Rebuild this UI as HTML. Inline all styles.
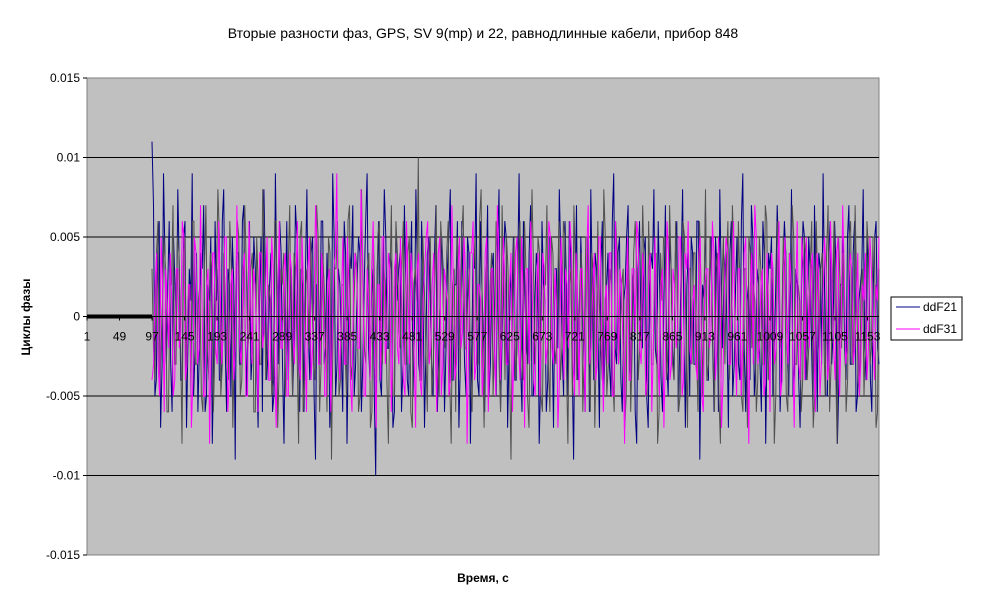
<!DOCTYPE html>
<html><head><meta charset="utf-8"><style>
body{margin:0;background:#fff;font-family:"Liberation Sans",sans-serif}
svg{display:block}
</style></head><body>
<svg id="c" width="981" height="605" xmlns="http://www.w3.org/2000/svg">
<text x="483" y="38" text-anchor="middle" font-size="14">Вторые разности фаз, GPS, SV 9(mp) и 22, равнодлинные кабели, прибор 848</text>
<rect x="87" y="78" width="792" height="477" fill="#c0c0c0" stroke="#808080"/>
<g id="grid"></g><g id="series"></g><g id="axes"></g>
<text x="30" y="317" transform="rotate(-90 30 317)" text-anchor="middle" font-size="12" font-weight="bold">Циклы фазы</text>
<text x="483" y="582" text-anchor="middle" font-size="12" font-weight="bold">Время, с</text>
<g>
<rect x="891" y="297" width="71" height="43" fill="#fff" stroke="#000"/>
<line x1="896" y1="307" x2="920" y2="307" stroke="#000080"/>
<text x="923" y="311" font-size="12">ddF21</text>
<line x1="896" y1="329" x2="920" y2="329" stroke="#ff00ff"/>
<text x="923" y="333" font-size="12">ddF31</text>
</g>
</svg>
<script>
const yTicks=[0.015,0.01,0.005,0,-0.005,-0.01,-0.015];
const xTickLabels=[1,49,97,145,193,241,289,337,385,433,481,529,577,625,673,721,769,817,865,913,961,1009,1057,1105,1153];
const nCategories=1170;
const noiseStart=97;
const blue=[11,-5,4,-7,9,-3,6,-6,2,8,-4,5,-7,3,9,-2,-6,4,7,-5,1,-8,6,3,-4,8,-6,2,5,-9,4,-3,7,-5,6,-2,3,-7,5,8,-4,2,-6,9,-3,4,-8,6,1,-5,7,-2,3,-6,8,-4,5,-9,2,6,-3,4,-7,9,-5,3,-2,6,-8,4,7,-3,5,-6,2,9,-4,3,-10,6,-5,8,-2,4,-7,5,3,-6,7,-4,2,-5,8,-3,6,-7,4,1,-5,7,-2,5,-6,3,8,-4,2,-7,6,-3,5,-8,4,9,-5,2,-6,7,-3,4,-5,8,-2,6,-7,3,5,-4,9,-6,2,-3,7,-5,4,-8,6,1,-4,5,-7,3,8,-2,6,-5,4,-9,7,-3,2,-6,5,8,-4,3,-7,6,-2,4,-5,9,-3,5,-6,2,7,-4,3,-8,6,-2,5,-7,4,8,-3,2,-6,7,-5,3,-4,6,-2,8,-7,4,5,-3,6,-9,2,7,-4,5,-6,3,8,-2,4,-7,6,-3,5,-4,9,-6,2,7,-5,3,-3,6,-8,4,5,-2,7,-6,3,4,-5,8,-3,2,-7,6,-4,5,-2,7,-6,3,9,-5,4,-3,6,-8,2,5,-4,7,-3,6,-5,2,8,-4,3,-6,5,-2,7,-4,6,-3,4,
 2,-3,5,-1,3,-4,6,-2,1,-5,4,-2,3,-6,2,5,-3,1,-4,6,-2,3,-5,2,4,-3,6,-1,2,-4,5,-3,1,-6,3,-2,4,-5,2,6,-3,1,-4,3,-2,5,-6,2,3,-1,4,-5,2,-3,6,-2,1,-4,5,-3,2,-6,4,-1,3,-5,2,4,-3,6,-2,1,-5,3,-4,2,5,-2,3,-6,1,4,-3,2,-5,6,-1,3,-4,2,-2,5,-3,4,-6,1,3,-2,5,-4,2,6,-3,1,-5,4,-2,3,-4,6,-1,2,-5,3,-3,4,-6,2,5,-2,1,-4,3,-3,6,-2,4,-5,1,3,-4,2,-6,5,-1,3,-2,4,-5,2,6,-3,1,-4,5,-2,3,-6,2,4,-1,3,-5,2,-3,6,-2,4,-4,1,5,-3,2,-6,3,-1,4,-5,2,3,-2,6,-4,1,-3,5,-2,4,-6,3,-1,2,-5,4,-3,6,-2,1,-4,3,-2,5,-6,2,3,-1,4,-5,2,-3,6,-2,1,-4,5,-3,2,-6,4,-1,3,-5,2,4,-3,6,-2,1,-5,3,-4,2,5,-2,3,-6,1,4,-3,2,-5,6,-1,3,-4,2,-2,5,-3,4,-6,1,3,-2,5,-4,2,6,-3];
const gray=[3,-4,6,-2,5,-6,2,7,-3,4,-8,5,1,-5,6,-3,2,-6,7,-4,3,-2,8,-5,4,-3,6,-7,2,5,-4,7,-2,3,-6,5,-3,8,-4,2,-5,6,-7,3,4,-2,7,-5,3,-8,6,-4,2,5,-3,7,-6,4,-2,5,-9,3,6,-4,2,-5,7,-3,4,-6,8,-2,3,-7,5,-4,6,-3,2,-8,7,-5,4,-2,6,-3,5,-7,3,10,-4,2,-6,5,-3,7,-5,4,-2,6,-8,3,5,-4,7,-2,3,-6,5,-3,8,-7,4,2,-5,6,-3,7,-4,3,-9,5,-2,6,-4,3,-7,8,-3,5,-5,2,7,-6,4,-3,6,-2,5,-8,3,7,-4,2,-6,5,-3,4,-7,6,-2,8,-5,3,-4,6,-3,2,-7,5,-6,4,3,-2,7,-5,6,-3,2,-8,4,5,-4,7,-3,6,-6,2,5,-7,3,4,-2,6,-5,8,-3,2,-6,4,-8,5,3,-4,7,-2,6,-5,3,-7,4,2,-6,5,-3,7,-4,3,-8,6,-2,5,-5,4,7,-3,2,-6,5,-4,3,-7,6,-2,4,-5,7,-3,6,-8,2,4,-6,5,-3,7,-4,2,-5,6,-3,5,-7,
 -2,4,-5,1,3,-6,2,-3,5,-1,4,-4,2,6,-3,1,-5,3,-2,4,-6,2,5,-3,1,-4,3,-2,6,-5,2,3,-1,4,-6,2,-3,5,-2,1,-4,6,-3,2,-5,3,-1,4,-2,5,-6,3,-2,1,-4,5,-3,2,-6,4,-1,3,-5,2,-2,6,-4,1,3,-5,2,-3,4,-6,1,5,-2,3,-4,2,-5,6,-1,3,-3,4,-6,2,1,-4,5,-2,3,-5,2,-3,6,-1,4,-4,2,-6,3,5,-2,1,-4,3,-3,6,-2,2,-5,4,-1,3,-6,2,5,-3,1,-4,4,-2,6,-5,2,3,-1,4,-6,2,-3,5,-2,1,-4,6,-3,2,-5,3,-1,4,-2,5,-6,3,-2,1,-4,5,-3,2,-6,4,-1,3,-5,2,-2,6,-4,1,3,-5,2,-3,4,-6,1,5,-2,3,-4,2,-5,6,-1,3,-3,4,-6,2,1,-4,5,-2,3,-5,2,-3,6,-1,4,-4,2,-6,3,5,-2,1,-4,3,-3,6,-2,2,-5,4,-1,3,-6,2,5,-3,1,-4,4,-2,6,-5,2,3,-1,4,-6,2,-3,5,-2,1,-4,6,-3,2,-5,3,-1,4,-2,5,-6,3];
const magenta=[-4,2,-3,5,-6,1,4,-5,3,-2,6,-4,2,-7,5,-3,7,-5,2,-8,4,-2,6,-3,5,-6,2,-4,7,-2,3,-5,6,-3,2,-6,4,-1,5,-4,3,-7,6,-2,4,-5,3,-3,6,-4,2,-6,5,-2,7,-3,4,-5,2,-6,3,9,-4,5,-3,2,-6,4,-2,8,-5,3,-4,6,-7,2,5,-3,4,-6,3,-2,5,-4,6,-3,2,-7,4,-5,3,6,-2,4,-6,5,-3,2,-5,7,-4,3,-2,5,-8,4,6,-3,2,-5,4,-6,3,-2,7,-4,5,-3,2,-6,4,-2,5,-7,3,6,-4,2,-5,4,-3,6,-2,3,-7,5,-4,2,6,-3,4,-5,3,-6,7,-2,4,-3,5,-6,2,4,-5,6,-3,2,-8,5,-4,3,6,-2,4,-5,3,-6,5,-3,2,-7,6,-4,3,-2,5,-5,4,6,-3,2,-4,5,-6,3,-2,6,-4,5,-7,2,4,-3,6,-5,3,-2,5,-8,4,7,-3,2,-5,4,-6,3,-2,6,-4,5,-3,2,-7,6,-4,3,5,-2,4,-6,3,-3,5,-4,6,-2,4,-5,7,-3,2,
 3,-2,4,-3,1,-4,5,-1,2,-3,4,-5,2,3,-2,1,-4,3,-1,5,-3,2,-4,4,-2,1,-5,3,-2,4,-3,2,-1,5,-4,3,-2,1,-3,4,-5,2,3,-1,4,-2,2,-4,5,-3,1,-2,3,-5,4,-1,2,-3,5,-2,3,-4,1,4,-3,2,-5,3,-1,4,-2,1,-3,5,-4,2,3,-2,4,-5,1,3,-3,2,-4,5,-1,3,-2,4,-3,1,-5,2,4,-2,3,-4,1,5,-3,2,-2,4,-5,3,1,-4,2,-3,5,-1,3,-2,4,-4,2,1,-3,5,-2,3,-5,4,-1,2,-3,4,-2,5,-4,1,3,-3,2,-5,4,-1,3,-2,5,-3,1,-4,2,3,-2,4,-5,1,3,-1,4,-3,2,-4,5,-2,1,-3,4,-5,2,3,-2,1,-4,3,-1,5,-3,2,-4,4,-2,1,-5,3,-2,4,-3,2,-1,5,-4,3,-2,1,-3,4,-5,2,3,-1,4,-2,2,-4,5,-3,1,-2,3,-5,4,-1,2,-3,5,-2,3,-4,1,4,-3,2,-5,3,-1,4,-2,1,-3,5,-4,2,3,-2,4,-5,1,3,-3,2,-4,5,-1,3,-2,4,-3,1,-5,2,4,-2,3,-4,1,5];
const svg=document.getElementById('c'),NS='http://www.w3.org/2000/svg';
const L=87,R=879,T=78,B=555;
const y=v=>T+(0.015-v)/0.03*(B-T);
const x=i=>L+(i-1)/(nCategories-1)*(R-L);
function mk(tag,attrs,parent){const e=document.createElementNS(NS,tag);for(const k in attrs)e.setAttribute(k,attrs[k]);parent.appendChild(e);return e;}
const grid=document.getElementById('grid'),axes=document.getElementById('axes'),ser=document.getElementById('series');
yTicks.forEach(v=>{
 if(Math.abs(v)<0.0149&&v!==0){const g=mk('line',{x1:L,x2:R,y1:y(v),y2:y(v),stroke:'#000'},grid);
 
 }
 const t=mk('text',{x:80,y:y(v)+4,'text-anchor':'end','font-size':12},axes);t.textContent=v;
 
 
 mk('line',{x1:L-4,x2:L,y1:y(v),y2:y(v),stroke:'#000'},axes);
});
// interleave: first half of each array is the sparse pass, second half fills between samples
function series(vals,color,name){
 const half=Math.floor(vals.length/2);
 const a=vals.slice(0,half),b=vals.slice(half);
 let merged=[];
 for(let k=0;k<Math.max(a.length,b.length);k++){if(k<a.length)merged.push(a[k]);if(k<b.length)merged.push(b[k]);}
 let pts=[];
 const n=merged.length;
 merged.forEach((v,k)=>{const i=noiseStart+k*(nCategories-noiseStart)/(n-1);pts.push(x(i).toFixed(1)+','+y(v/1000).toFixed(1));});
 const p=mk('polyline',{points:pts.join(' '),fill:'none',stroke:color,'stroke-width':1},ser);
 
 
}
series(blue,'#000080','series-ddf21');
series(gray,'#505050','series-gray');
series(magenta,'#ff00ff','series-ddf31');
const z=mk('line',{x1:L,x2:x(noiseStart),y1:y(0),y2:y(0),stroke:'#000','stroke-width':4},ser);


mk('line',{x1:L,x2:R,y1:y(0),y2:y(0),stroke:'#000'},axes);
xTickLabels.forEach(c=>{
 const t=mk('text',{x:x(c),y:y(0)+24,'text-anchor':'middle','font-size':12},axes);t.textContent=c;
 
 
 mk('line',{x1:x(c),x2:x(c),y1:y(0),y2:y(0)+4,stroke:'#000'},axes);
});
</script>
</body></html>
